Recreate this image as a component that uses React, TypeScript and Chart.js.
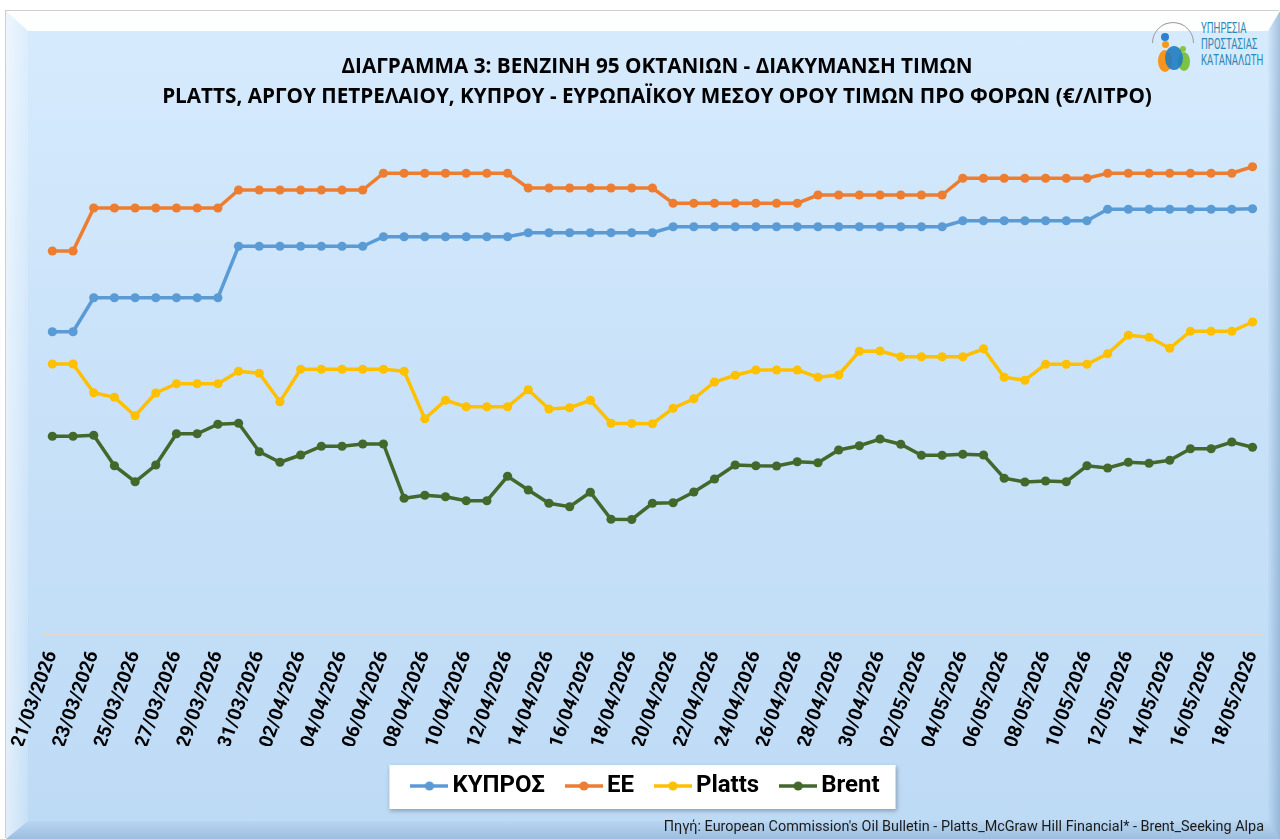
import React, { useEffect, useRef } from "react";
import { Chart, registerables } from "chart.js";

Chart.register(...registerables);

const dates = [
  "21/03/2026", "22/03/2026", "23/03/2026", "24/03/2026", "25/03/2026", "26/03/2026", "27/03/2026",
  "28/03/2026", "29/03/2026", "30/03/2026", "31/03/2026",
  "01/04/2026", "02/04/2026", "03/04/2026", "04/04/2026", "05/04/2026", "06/04/2026", "07/04/2026",
  "08/04/2026", "09/04/2026", "10/04/2026", "11/04/2026", "12/04/2026", "13/04/2026", "14/04/2026",
  "15/04/2026", "16/04/2026", "17/04/2026", "18/04/2026", "19/04/2026", "20/04/2026", "21/04/2026",
  "22/04/2026", "23/04/2026", "24/04/2026", "25/04/2026", "26/04/2026", "27/04/2026", "28/04/2026",
  "29/04/2026", "30/04/2026",
  "01/05/2026", "02/05/2026", "03/05/2026", "04/05/2026", "05/05/2026", "06/05/2026", "07/05/2026",
  "08/05/2026", "09/05/2026", "10/05/2026", "11/05/2026", "12/05/2026", "13/05/2026", "14/05/2026",
  "15/05/2026", "16/05/2026", "17/05/2026", "18/05/2026",
];

const kypros = [
  1.209, 1.209,
  1.345, 1.345, 1.345, 1.345, 1.345, 1.345, 1.345,
  1.551, 1.551, 1.551, 1.551, 1.551, 1.551, 1.551,
  1.589, 1.589, 1.589, 1.589, 1.589, 1.589, 1.589,
  1.605, 1.605, 1.605, 1.605, 1.605, 1.605, 1.605,
  1.629, 1.629, 1.629, 1.629, 1.629, 1.629, 1.629,
  1.629, 1.629, 1.629, 1.629, 1.629, 1.629, 1.629,
  1.653, 1.653, 1.653, 1.653, 1.653, 1.653, 1.653,
  1.699, 1.699, 1.699, 1.699, 1.699, 1.699, 1.699,
  1.701,
];

const ee = [
  1.532, 1.532,
  1.704, 1.704, 1.704, 1.704, 1.704, 1.704, 1.704,
  1.776, 1.776, 1.776, 1.776, 1.776, 1.776, 1.776,
  1.843, 1.843, 1.843, 1.843, 1.843, 1.843, 1.843,
  1.784, 1.784, 1.784, 1.784, 1.784, 1.784, 1.784,
  1.723, 1.723, 1.723, 1.723, 1.723, 1.723, 1.723,
  1.756, 1.756, 1.756, 1.756, 1.756, 1.756, 1.756,
  1.823, 1.823, 1.823, 1.823, 1.823, 1.823, 1.823,
  1.843, 1.843, 1.843, 1.843, 1.843, 1.843, 1.843,
  1.869,
];

const platts = [
  1.080, 1.080, 0.965, 0.947, 0.873, 0.964, 1.001, 1.001, 1.001, 1.051,
  1.043, 0.929, 1.059, 1.059, 1.059, 1.059, 1.059, 1.051, 0.861, 0.935,
  0.909, 0.909, 0.909, 0.977, 0.900, 0.905, 0.935, 0.843, 0.842, 0.841,
  0.903, 0.941, 1.008, 1.035, 1.056, 1.056, 1.056, 1.027, 1.036, 1.131,
  1.132, 1.109, 1.109, 1.109, 1.109, 1.141, 1.027, 1.015, 1.079, 1.079,
  1.079, 1.121, 1.195, 1.187, 1.143, 1.211, 1.211, 1.211, 1.248,
];

const brent = [
  0.791, 0.791, 0.795, 0.673, 0.609, 0.676, 0.801, 0.801, 0.839, 0.843,
  0.729, 0.687, 0.716, 0.751, 0.751, 0.760, 0.760, 0.543, 0.555, 0.549,
  0.533, 0.533, 0.631, 0.576, 0.523, 0.509, 0.567, 0.459, 0.458, 0.523,
  0.525, 0.568, 0.620, 0.676, 0.673, 0.672, 0.689, 0.685, 0.736, 0.753,
  0.780, 0.759, 0.715, 0.715, 0.719, 0.716, 0.623, 0.608, 0.612, 0.609,
  0.673, 0.664, 0.687, 0.683, 0.695, 0.741, 0.741, 0.768, 0.747,
];

const seriesNames = ["ΚΥΠΡΟΣ", "ΕΕ", "Platts", "Brent"];
const seriesColors = ["#5B9BD5", "#ED7D31", "#FFC000", "#43682B"];

const titleLines = [
  "ΔΙΑΓΡΑΜΜΑ 3: ΒΕΝΖΙΝΗ 95 ΟΚΤΑΝΙΩΝ - ΔΙΑΚΥΜΑΝΣΗ ΤΙΜΩΝ",
  "PLATTS, ΑΡΓΟΥ ΠΕΤΡΕΛΑΙΟΥ, ΚΥΠΡΟΥ - ΕΥΡΩΠΑΪΚΟΥ ΜΕΣΟΥ ΟΡΟΥ ΤΙΜΩΝ ΠΡΟ ΦΟΡΩΝ (€/ΛΙΤΡΟ)",
];
const sourceText =
  "Πηγή: European Commission's Oil Bulletin - Platts_McGraw Hill Financial* - Brent_Seeking Alpa";
const logoLines = ["ΥΠΗΡΕΣΙΑ", "ΠΡΟΣΤΑΣΙΑΣ", "ΚΑΤΑΝΑΛΩΤΗ"];

const FONT = "Roboto, 'Noto Sans', sans-serif";
const TITLE_FONT = "'Open Sans', 'Noto Sans', sans-serif";

function makeSymbol(color: string): HTMLCanvasElement {
  const c = document.createElement("canvas");
  c.width = 38;
  c.height = 12;
  const g = c.getContext("2d")!;
  g.strokeStyle = color;
  g.lineWidth = 3.5;
  g.beginPath();
  g.moveTo(0, 6);
  g.lineTo(38, 6);
  g.stroke();
  g.fillStyle = color;
  g.beginPath();
  g.arc(19, 6, 4.6, 0, Math.PI * 2);
  g.fill();
  return c;
}

export default function App() {
  const ref = useRef<HTMLCanvasElement | null>(null);

  useEffect(() => {
    const canvas = ref.current;
    if (!canvas) return;
    const values = [kypros, ee, platts, brent];
    const symbols = seriesColors.map(makeSymbol);

    const legendBox = {
      id: "legendBox",
      afterLayout(chart: any) {
        const lg = chart.legend;
        if (lg) {
          lg.left -= 8;
          lg.right -= 8;
        }
      },
      beforeDraw(chart: any) {
        const lg = chart.legend;
        if (!lg || !lg.legendHitBoxes || !lg.legendHitBoxes.length) return;
        const hb = lg.legendHitBoxes;
        const first = hb[0];
        const last = hb[hb.length - 1];
        const x0 = first.left - 29;
        const x1 = last.left + last.width + 16;
        const yc = first.top + 12;
        const y0 = yc - 21;
        const y1 = yc + 23;
        const ctx = chart.ctx;
        ctx.save();
        ctx.shadowColor = "rgba(0,0,0,0.28)";
        ctx.shadowBlur = 4;
        ctx.shadowOffsetX = 1;
        ctx.shadowOffsetY = 2;
        ctx.fillStyle = "#ffffff";
        ctx.fillRect(x0, y0, x1 - x0, y1 - y0);
        ctx.restore();
      },
    };

    const chart = new Chart(canvas, {
      type: "line",
      data: {
        labels: dates,
        datasets: values.map((v, i) => ({
          label: seriesNames[i],
          data: v,
          borderColor: seriesColors[i],
          backgroundColor: seriesColors[i],
          pointBackgroundColor: seriesColors[i],
          pointBorderColor: seriesColors[i],
          pointBorderWidth: 0,
          pointRadius: 4.6,
          borderWidth: 3.5,
          tension: 0,
          fill: false,
        })),
      },
      options: {
        responsive: false,
        animation: false,
        events: [],
        layout: { padding: { left: 42, right: 8, top: 0, bottom: 31 } },
        plugins: {
          title: {
            display: true,
            text: titleLines,
            color: "#000",
            font: { family: TITLE_FONT, size: 20.7, weight: "bold", lineHeight: 30 / 20.7 },
            padding: { top: 52, bottom: 22 },
          },
          legend: {
            display: true,
            position: "bottom",
            labels: {
              usePointStyle: true,
              pointStyleWidth: 22,
              padding: 28,
              color: "#000",
              font: { family: FONT, size: 24, weight: "bold" },
              generateLabels: (ch: any) =>
                ch.data.datasets.map((ds: any, i: number) => ({
                  text: ds.label,
                  fillStyle: seriesColors[i],
                  strokeStyle: seriesColors[i],
                  lineWidth: 0,
                  pointStyle: symbols[i],
                  hidden: false,
                  datasetIndex: i,
                  fontColor: "#000",
                })),
            },
          },
          tooltip: { enabled: false },
        },
        scales: {
          x: {
            type: "category",
            offset: true,
            grid: { display: false, drawTicks: true, tickLength: 8 },
            border: { display: true, color: "#e4d9c6", width: 1 },
            ticks: {
              autoSkip: false,
              minRotation: 70,
              maxRotation: 70,
              padding: 6,
              color: "#000",
              font: { family: FONT, size: 19, weight: "bold" },
              callback: (_v: any, i: number) => (i % 2 === 0 ? dates[i] : ""),
            },
            afterFit: (scale: any) => {
              scale.height = 112;
            },
          },
          y: {
            display: false,
            min: 0,
            max: 2,
          },
        },
      },
      plugins: [legendBox],
    } as any);

    return () => chart.destroy();
  }, []);

  const bevel = (clip: string, bg: string): React.CSSProperties => ({
    position: "absolute",
    left: 0,
    top: 0,
    width: 1274,
    height: 828,
    clipPath: clip,
    background: bg,
  });

  return (
    <div
      style={{
        position: "absolute",
        left: 0,
        top: 0,
        width: 1280,
        height: 839,
        background: "#ffffff",
        overflow: "hidden",
        fontFamily: FONT,
      }}
    >
      <div
        style={{
          position: "absolute",
          left: 6,
          top: 11,
          width: 1274,
          height: 828,
          background: "linear-gradient(to bottom, #d7ebfd 0%, #c9e2f9 45%, #bddaf5 100%)",
          boxShadow: "-1px -1px 0 #cfcfcf",
        }}
      >
        <div
          style={bevel(
            "polygon(0px 0px, 1274px 0px, 1262px 20px, 22px 20px)",
            "linear-gradient(to bottom, rgba(255,255,255,0.98) 0%, rgba(255,255,255,0.85) 60%, rgba(255,255,255,0.2) 100%)"
          )}
        />
        <div
          style={bevel(
            "polygon(0px 0px, 22px 20px, 22px 810px, 0px 828px)",
            "linear-gradient(to right, rgba(255,255,255,0.55) 0px, rgba(255,255,255,0.15) 22px)"
          )}
        />
        <div
          style={bevel(
            "polygon(1274px 0px, 1274px 828px, 1262px 810px, 1262px 20px)",
            "linear-gradient(to right, rgba(120,160,200,0.05) 1262px, rgba(90,130,175,0.4) 1274px)"
          )}
        />
        <div
          style={bevel(
            "polygon(0px 828px, 22px 810px, 1262px 810px, 1274px 828px)",
            "linear-gradient(to bottom, rgba(120,160,200,0.08) 810px, rgba(90,130,175,0.32) 828px)"
          )}
        />
      </div>

      {/* logo */}
      <div style={{ position: "absolute", left: 1152, top: 22, width: 44, height: 50 }}>
        <div
          style={{
            position: "absolute",
            left: 0,
            top: 0,
            width: 42,
            height: 42,
            borderRadius: "50%",
            border: "1.5px solid #9a9a9a",
            borderBottomColor: "transparent",
            borderRightColor: "transparent",
            transform: "rotate(45deg)",
            boxSizing: "border-box",
          }}
        />
        <div style={{ position: "absolute", left: 9, top: 11, width: 8, height: 8, borderRadius: "50%", background: "#2f7fd0" }} />
        <div style={{ position: "absolute", left: 10, top: 19, width: 7, height: 7, borderRadius: "50%", background: "#f29a1f" }} />
        <div style={{ position: "absolute", left: 28, top: 24, width: 6, height: 6, borderRadius: "50%", background: "#8cc63f" }} />
        <div style={{ position: "absolute", left: 6, top: 28, width: 14, height: 22, borderRadius: "50%", background: "#f7941d" }} />
        <div style={{ position: "absolute", left: 26, top: 30, width: 12, height: 19, borderRadius: "50%", background: "#7dc243" }} />
        <div style={{ position: "absolute", left: 13, top: 24, width: 18, height: 24, borderRadius: "50%", background: "#1f7cc1", opacity: 0.9 }} />
      </div>
      {logoLines.map((t, i) => (
        <div
          key={t}
          style={{
            position: "absolute",
            left: 1201,
            top: 20 + i * 16,
            fontSize: 15,
            lineHeight: "16px",
            color: "#2b87b5",
            transform: "scaleX(0.64)",
            transformOrigin: "left center",
            whiteSpace: "nowrap",
            fontFamily: FONT,
          }}
        >
          {t}
        </div>
      ))}

      <canvas
        ref={ref}
        width={1280}
        height={839}
        style={{ position: "absolute", left: 0, top: 0, width: 1280, height: 839 }}
      />

      <div
        style={{
          position: "absolute",
          right: 16,
          top: 817,
          fontSize: 14.4,
          lineHeight: "20px",
          color: "#1a1a1a",
          whiteSpace: "nowrap",
          fontFamily: FONT,
        }}
      >
        {sourceText}
      </div>
    </div>
  );
}
